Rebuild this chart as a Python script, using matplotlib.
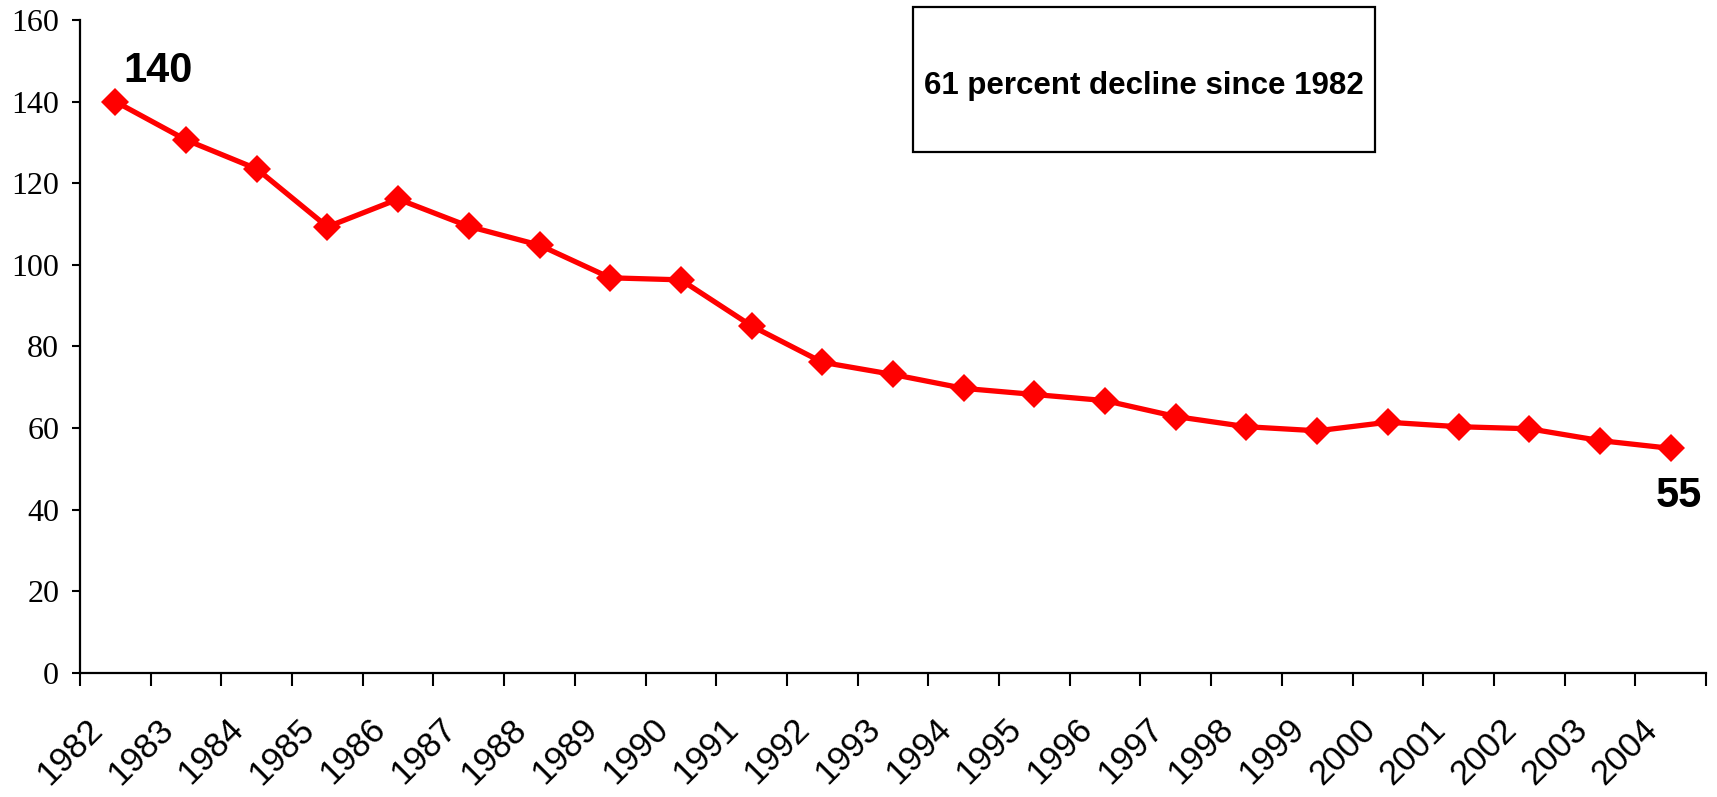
import matplotlib
matplotlib.use("Agg")
import matplotlib.pyplot as plt
import matplotlib.transforms as mtransforms
from matplotlib.patches import Rectangle
import numpy as np

# values
years = [str(y) for y in range(1982, 2005)]
values = [140, 130.6, 123.5, 109.3, 116.1, 109.4, 104.8, 96.8, 96.3, 85.0,
          76.1, 73.1, 69.7, 68.2, 66.7, 62.8, 60.3, 59.3, 61.4, 60.3,
          59.8, 56.9, 55]
y_ticks = [0, 20, 40, 60, 80, 100, 120, 140, 160]
box_text = "61 percent decline since 1982"

fig = plt.figure(figsize=(17.17, 7.97), dpi=100)
ax = fig.add_axes([80 / 1717, 1 - 672.7 / 797, 1626 / 1717, 652.7 / 797])

x = np.arange(len(years))
ax.plot(x, values, color="#ff0000", linewidth=3.8, marker="D",
        markersize=14.5, markeredgewidth=0, zorder=3)

ax.set_xlim(-0.5, len(years) - 0.5)
ax.set_ylim(0, 160)

# spines like the old spreadsheet chart
for side in ["top", "right"]:
    ax.spines[side].set_visible(False)
for side in ["left", "bottom"]:
    ax.spines[side].set_linewidth(1.6)

ax.set_yticks(y_ticks)
ax.set_yticklabels([str(v) for v in y_ticks], family="Liberation Serif",
                   fontsize=23)
ax.tick_params(axis="y", direction="out", length=6, width=1.5, pad=9)

# ticks between categories, labels at the centers
ax.set_xticks(np.arange(-0.5, len(years), 1.0))
ax.set_xticklabels([])
ax.tick_params(axis="x", which="major", direction="out", length=9, width=1.5)
ax.set_xticks(x, minor=True)
ax.set_xticklabels(years, minor=True, rotation=45, ha="right", va="center",
                   rotation_mode="anchor", family="Liberation Sans",
                   fontsize=25)
ax.tick_params(axis="x", which="minor", length=0, pad=37)
shift = mtransforms.ScaledTranslation(-18 / 100, 0, fig.dpi_scale_trans)
for lab in ax.get_xticklabels(minor=True):
    lab.set_transform(lab.get_transform() + shift)

# end-point labels
ax.annotate("140", (x[0], values[0]), xytext=(6, 14), textcoords="offset points",
            ha="left", va="baseline", fontsize=30, fontweight="bold",
            family="Liberation Sans")
ax.annotate("55", (x[-1], values[-1]), xytext=(6, -20), textcoords="offset points",
            ha="center", va="top", fontsize=30, fontweight="bold",
            family="Liberation Sans")

# boxed note
rect = Rectangle((0.5123, 0.7978), 0.2841, 0.2221, transform=ax.transAxes,
                 fill=False, edgecolor="black", linewidth=1.6, clip_on=False)
ax.add_patch(rect)
ax.text(0.654, 0.886, box_text, transform=ax.transAxes, ha="center",
        va="baseline", fontsize=22.5, fontweight="bold",
        family="Liberation Sans")

fig.savefig("out.png", dpi=100)
